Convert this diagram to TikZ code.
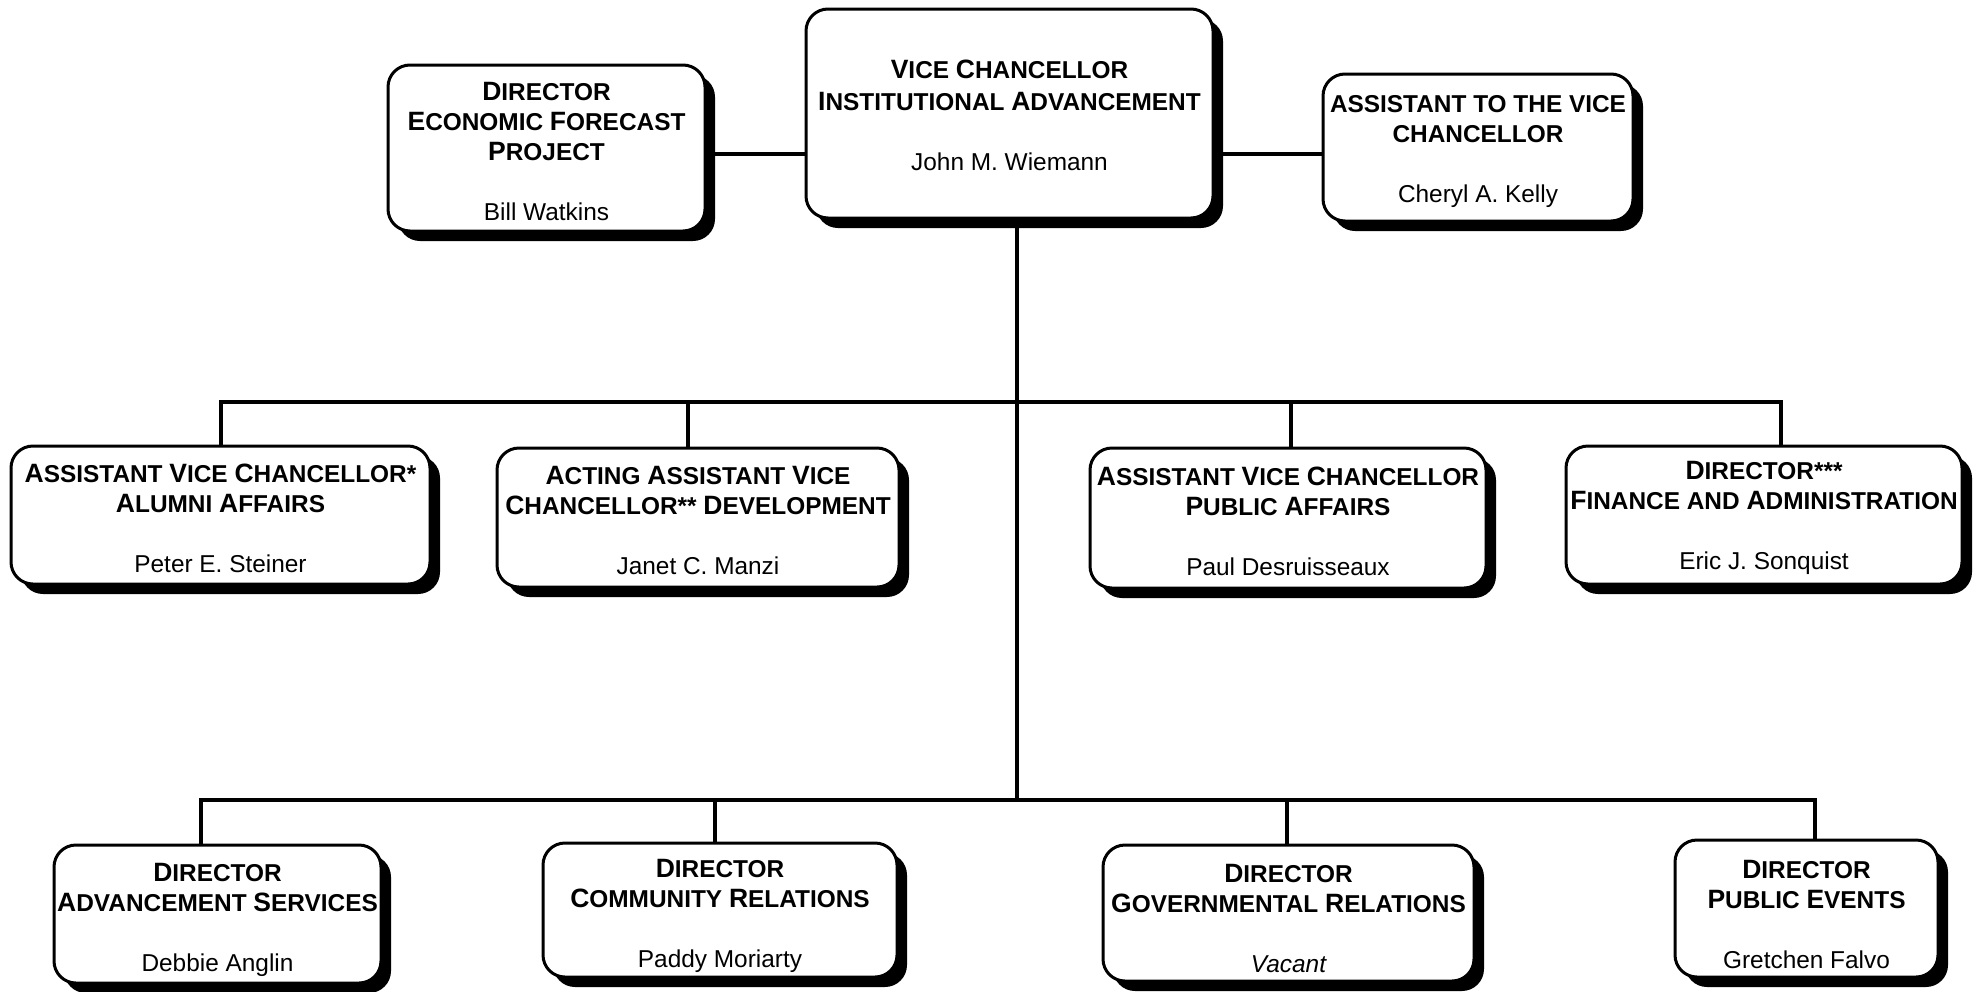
\documentclass[tikz,border=0pt]{standalone}
\usepackage{fontspec}
\setmainfont{Liberation Sans}
\usetikzlibrary{shadows}
\newcommand{\Bc}[1]{{\fontsize{13.25pt}{15pt}\selectfont #1}}
\newcommand{\Nm}[1]{{\mdseries\fontsize{12.2pt}{15pt}\selectfont #1}}
\newcommand{\Up}[1]{\rule{0pt}{#1}}
\begin{document}
\begin{tikzpicture}[x=0.5pt,y=-0.5pt,
  orgbox/.style={draw=black, line width=1.5pt, fill=white, rounded corners=11pt,
    inner sep=0pt, align=center, anchor=center,
    font=\bfseries\fontsize{12.2pt}{15pt}\selectfont,
    drop shadow={shadow xshift=5pt, shadow yshift=-5pt, fill=black, opacity=1}},
  link/.style={draw=black, line width=2pt, line join=miter}]
\useasboundingbox (0,0) rectangle (1980,991);

% top row
\node[orgbox, minimum width=203.5pt, minimum height=104.5pt] (vc) at (1009.5,113.5)
  {\Up{11.3pt}\Bc{V}ICE \Bc{C}HANCELLOR\\[1pt] \Bc{I}NSTITUTIONAL \Bc{A}DVANCEMENT\\[15pt] \Nm{John M. Wiemann}};
\node[orgbox, minimum width=158.5pt, minimum height=83pt] (econ) at (546.5,148)
  {\Up{12.3pt}\Bc{D}IRECTOR\\ \Bc{E}CONOMIC \Bc{F}ORECAST\\ \Bc{P}ROJECT\\[15pt] \Nm{Bill Watkins}};
\node[orgbox, minimum width=155pt, minimum height=73.5pt] (asst) at (1478,147.5)
  {\Up{12.7pt}ASSISTANT TO THE VICE\\ CHANCELLOR\\[15pt] \Nm{Cheryl A. Kelly}};

% middle row
\node[orgbox, minimum width=209.5pt, minimum height=69pt] (alum) at (220.5,515)
  {\Up{12.3pt}\Bc{A}SSISTANT \Bc{V}ICE \Bc{C}HANCELLOR*\\ \Bc{A}LUMNI \Bc{A}FFAIRS\\[15pt] \Nm{Peter E. Steiner}};
\node[orgbox, minimum width=201pt, minimum height=69.5pt] (dev) at (698,517.5)
  {\Up{12.3pt}\Bc{A}CTING \Bc{A}SSISTANT \Bc{V}ICE\\ \Bc{C}HANCELLOR** \Bc{D}EVELOPMENT\\[15pt] \Nm{Janet C. Manzi}};
\node[orgbox, minimum width=198pt, minimum height=70pt] (pubaff) at (1288,518)
  {\Up{12.3pt}\Bc{A}SSISTANT \Bc{V}ICE \Bc{C}HANCELLOR\\ \Bc{P}UBLIC \Bc{A}FFAIRS\\[15pt] \Nm{Paul Desruisseaux}};
\node[orgbox, minimum width=198pt, minimum height=69pt] (fin) at (1764,515)
  {\Up{12.3pt}\Bc{D}IRECTOR***\\ \Bc{F}INANCE AND \Bc{A}DMINISTRATION\\[15pt] \Nm{Eric J. Sonquist}};

% bottom row
\node[orgbox, minimum width=163.5pt, minimum height=69pt] (adv) at (217.5,914)
  {\Up{14.7pt}\Bc{D}IRECTOR\\ \Bc{A}DVANCEMENT \Bc{S}ERVICES\\[15pt] \Nm{Debbie Anglin}};
\node[orgbox, minimum width=177pt, minimum height=67pt] (comm) at (720,910)
  {\Up{14.7pt}\Bc{D}IRECTOR\\ \Bc{C}OMMUNITY \Bc{R}ELATIONS\\[15pt] \Nm{Paddy Moriarty}};
\node[orgbox, minimum width=185.5pt, minimum height=68pt] (gov) at (1288.5,913)
  {\Up{14.7pt}\Bc{D}IRECTOR\\ \Bc{G}OVERNMENTAL \Bc{R}ELATIONS\\[15pt] \Nm{\itshape Vacant}};
\node[orgbox, minimum width=131.5pt, minimum height=68.5pt] (pubev) at (1806.5,908.5)
  {\Up{14.7pt}\Bc{D}IRECTOR\\ \Bc{P}UBLIC \Bc{E}VENTS\\[15pt] \Nm{Gretchen Falvo}};

% connector coordinates
\coordinate (hl) at (0,154);
\coordinate (tm) at (1017,402);
\coordinate (tb) at (1017,800);
\coordinate (m1) at (221,402);
\coordinate (m2) at (688,402);
\coordinate (m3) at (1291,402);
\coordinate (m4) at (1781,402);
\coordinate (b1) at (201,800);
\coordinate (b2) at (715,800);
\coordinate (b3) at (1287,800);
\coordinate (b4) at (1815,800);

% connectors
\draw[link] (econ.east |- hl) -- (vc.west |- hl);
\draw[link] (vc.east |- hl) -- (asst.west |- hl);
\draw[link] (vc.south -| tm) -- (tb);
\draw[link] (m1 |- alum.north) -- (m1) -- (m4) -- (m4 |- fin.north);
\draw[link] (m2) -- (m2 |- dev.north);
\draw[link] (m3) -- (m3 |- pubaff.north);
\draw[link] (b1 |- adv.north) -- (b1) -- (b4) -- (b4 |- pubev.north);
\draw[link] (b2) -- (b2 |- comm.north);
\draw[link] (b3) -- (b3 |- gov.north);
\end{tikzpicture}
\end{document}
